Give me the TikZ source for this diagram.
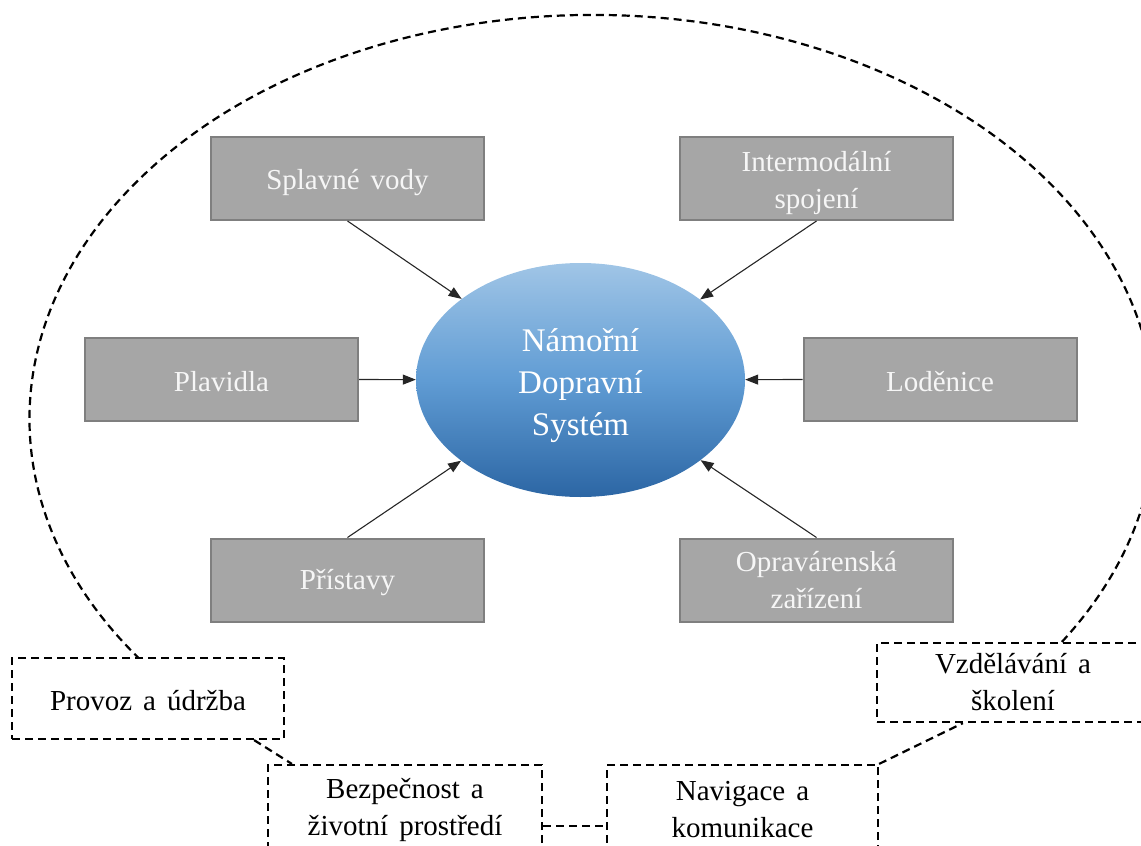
\documentclass[tikz,border=0pt]{standalone}
\usepackage{fontspec}
\setmainfont{Liberation Serif}
\usetikzlibrary{shapes.geometric,arrows.meta,calc}
\definecolor{boxfill}{RGB}{166,166,166}
\definecolor{boxline}{RGB}{127,127,127}
\definecolor{etop}{RGB}{160,197,230}
\definecolor{emid}{RGB}{96,156,212}
\definecolor{ebot}{RGB}{44,102,164}
\definecolor{txtwhite}{RGB}{246,246,246}
\newcommand{\boxfont}{\fontsize{29}{37}\selectfont\spaceskip=0.38em plus 0.1em}
\newcommand{\ellfont}{\fontsize{33}{42}\selectfont}
\newcommand{\txtdown}[2]{\raisebox{-#1}[\height][\depth]{#2}}
\tikzset{
  graybox/.style={draw=boxline, line width=2pt, fill=boxfill, minimum width=273pt,
    minimum height=83pt, inner sep=0pt, align=center, text=txtwhite, font=\boxfont},
  dline/.style={draw=black, line width=2.2pt, dash pattern=on 8pt off 5pt},
  dbox/.style={dline, minimum width=272pt, minimum height=81pt, inner sep=0pt,
    align=center, font=\boxfont, text=black},
  ellnode/.style={ellipse, minimum width=329pt, minimum height=234pt, inner sep=0pt,
    top color=etop, bottom color=ebot, middle color=emid,
    text=white, font=\ellfont},
  conn/.style={draw=black!85, line width=1.1pt, -{Triangle[length=13pt,width=10pt]}}
}
\begin{document}
\begin{tikzpicture}[x=1pt,y=-1pt]
\useasboundingbox (0,0) rectangle (1141,846);
% central ellipse
\node[ellnode] (ns) at (580.5,380) {\txtdown{5pt}{\begin{tabular}{@{}c@{}}Námořní\\Dopravní\\Systém\end{tabular}}};
% gray boxes
\node[graybox] (sv) at (347.5,178.5) {\txtdown{4pt}{Splavné vody}};
\node[graybox] (im) at (816.5,178.5) {\txtdown{4pt}{\begin{tabular}{@{}c@{}}Intermodální\\spojení\end{tabular}}};
\node[graybox] (pl) at (221.5,379.5) {\txtdown{2pt}{Plavidla}};
\node[graybox] (lo) at (940,379.5) {\txtdown{2pt}{Loděnice}};
\node[graybox] (pr) at (347.5,580) {\txtdown{3pt}{Přístavy}};
\node[graybox] (op) at (816.5,580) {\txtdown{3pt}{\begin{tabular}{@{}c@{}}Opravárenská\\zařízení\end{tabular}}};
% arrows
\draw[conn] (sv.south) -- (ns);
\draw[conn] (im.south) -- (ns);
\draw[conn] (pl.east) -- (ns);
\draw[conn] (lo.west) -- (ns);
\draw[conn] (pr.north) -- (ns);
\draw[conn] (op.north) -- (ns);
% dashed boxes
\node[dbox] (prov) at (148,698.5) {\txtdown{2pt}{Provoz a údržba}};
\node[dbox, minimum height=90pt, minimum width=274pt] (bez) at (405,810) {Bezpečnost a\\životní prostředí};
\node[dbox, minimum height=90pt, minimum width=271pt] (nav) at (742.5,810) {Navigace a\\komunikace};
\node[dbox, minimum height=79pt] (vz) at (1013,682.5) {Vzdělávání a\\školení};
% dashed connectors
\draw[dline] ($(prov.south east)+(-31,0)$) -- ($(bez.north west)+(25,0)$);
\draw[dline] ($(bez.east)+(0,16)$) -- ($(nav.west)+(0,16)$);
\draw[dline] (nav.north east) -- ($(vz.south west)+(87,0)$);
\draw[dline] ($(vz.north west)+(186,0)$) arc[start angle=33.5, end angle=-216.3, x radius=563, y radius=404];
\end{tikzpicture}
\end{document}
